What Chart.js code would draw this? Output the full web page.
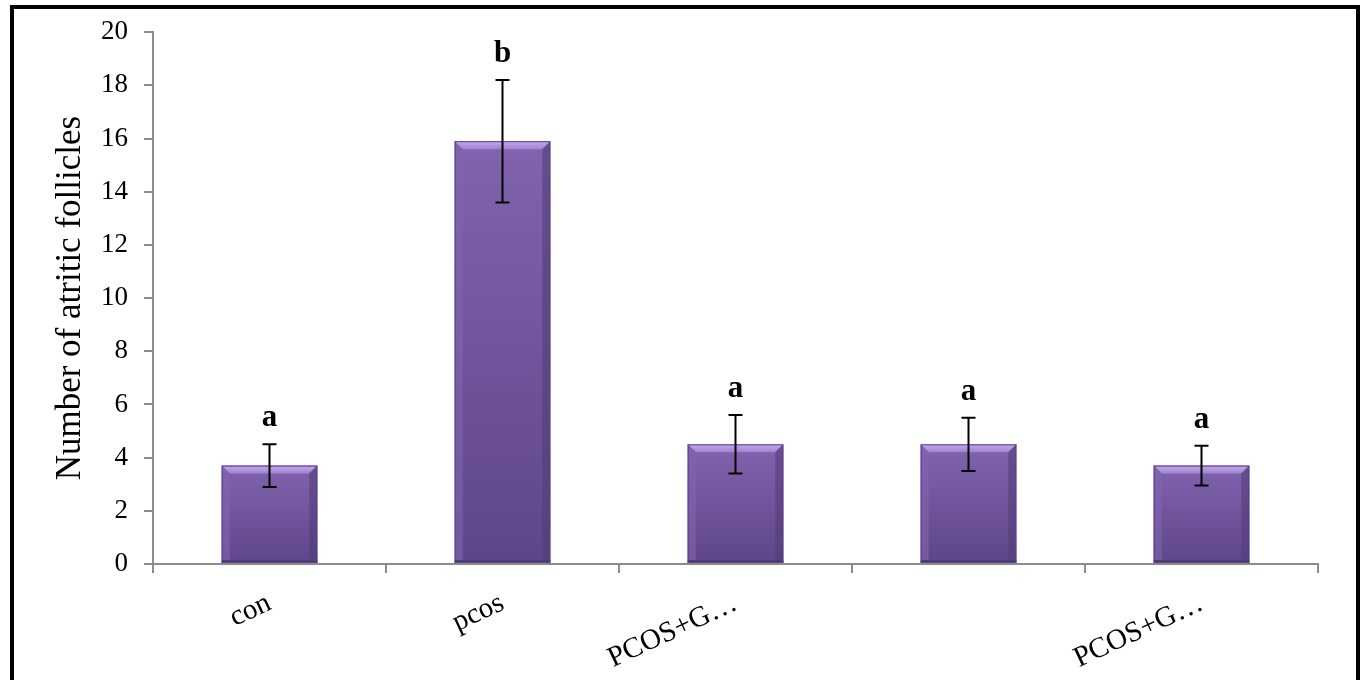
<!DOCTYPE html>
<html>
<head>
<meta charset="utf-8">
<script src="https://cdn.jsdelivr.net/npm/chart.js@4"></script>
<style>
  body { margin: 0; overflow: hidden; background: #fff; }
  #wrap { position: relative; width: 1364px; height: 680px; }
  #frame {
    position: absolute; left: 10px; top: 5px; width: 1350px; height: 700px;
    border: 4px solid #000; box-sizing: border-box; pointer-events: none;
  }
</style>
</head>
<body>
<div id="wrap">
  <canvas id="barChart" width="1364" height="680"></canvas>
  <div id="frame"></div>
</div>
<script>
// data
const categories = ["con", "pcos", "PCOS+G\u2026", "", "PCOS+G\u2026"];
const means = [3.7, 15.9, 4.5, 4.5, 3.7];
const errors = [0.8, 2.3, 1.1, 1.0, 0.75];
const letters = ["a", "b", "a", "a", "a"];
const yTicks = [0, 2, 4, 6, 8, 10, 12, 14, 16, 18, 20];

const axisGray = "#8c8c8c";
const serif = "'Liberation Serif', 'Times New Roman', serif";

// bevelled purple bars, painted over the bar elements chart.js laid out
const bevelPlugin = {
  id: "bevel",
  afterDatasetsDraw(chart) {
    const ctx = chart.ctx;
    chart.getDatasetMeta(0).data.forEach(function (bar) {
      const p = bar.getProps(["x", "y", "base", "width"], true);
      const l = p.x - p.width / 2, r = p.x + p.width / 2, t = p.y, b = p.base;
      const e = 8;
      ctx.save();
      let g = ctx.createLinearGradient(0, t, 0, b);
      g.addColorStop(0, "#8163ae");
      g.addColorStop(1, "#5f4689");
      ctx.fillStyle = g;
      ctx.fillRect(l, t, r - l, b - t);
      // top bevel
      g = ctx.createLinearGradient(0, t, 0, t + e);
      g.addColorStop(0, "#c3a9f0");
      g.addColorStop(1, "#9f82d2");
      ctx.fillStyle = g;
      ctx.beginPath();
      ctx.moveTo(l, t); ctx.lineTo(r, t); ctx.lineTo(r - e, t + e); ctx.lineTo(l + e, t + e);
      ctx.closePath(); ctx.fill();
      // left / right bevels
      ctx.fillStyle = "rgba(128,100,176,0.6)";
      ctx.beginPath();
      ctx.moveTo(l, t); ctx.lineTo(l + e, t + e); ctx.lineTo(l + e, b - 3); ctx.lineTo(l, b);
      ctx.closePath(); ctx.fill();
      ctx.fillStyle = "rgba(84,62,122,0.6)";
      ctx.beginPath();
      ctx.moveTo(r, t); ctx.lineTo(r - e, t + e); ctx.lineTo(r - e, b - 3); ctx.lineTo(r, b);
      ctx.closePath(); ctx.fill();
      // bottom
      ctx.fillStyle = "#4e3a74";
      ctx.fillRect(l, b - 3, r - l, 3);
      ctx.strokeStyle = "#5a4384";
      ctx.lineWidth = 1;
      ctx.strokeRect(l + 0.5, t + 0.5, r - l - 1, b - t - 1);
      ctx.restore();
    });
  },
};

// error bars and significance letters
const errorPlugin = {
  id: "errorBars",
  afterDatasetsDraw(chart) {
    const ctx = chart.ctx;
    const y = chart.scales.y;
    const cap = 7;
    chart.getDatasetMeta(0).data.forEach(function (bar, i) {
      const x = bar.x;
      const hi = y.getPixelForValue(means[i] + errors[i]);
      const lo = y.getPixelForValue(means[i] - errors[i]);
      ctx.save();
      ctx.strokeStyle = "#000";
      ctx.lineWidth = 2;
      ctx.beginPath();
      ctx.moveTo(x, hi); ctx.lineTo(x, lo);
      ctx.moveTo(x - cap, hi); ctx.lineTo(x + cap, hi);
      ctx.moveTo(x - cap, lo); ctx.lineTo(x + cap, lo);
      ctx.stroke();
      ctx.fillStyle = "#000";
      ctx.font = "bold 31px " + serif;
      ctx.textAlign = "center";
      ctx.textBaseline = "alphabetic";
      ctx.fillText(letters[i], x, hi - 18);
      ctx.restore();
    });
  },
};

const config = {
  type: "bar",
  data: {
    labels: categories,
    datasets: [
      {
        label: "Number of atritic follicles",
        data: means,
        backgroundColor: "#7458a0",
        borderWidth: 0,
        barPercentage: 0.41,
        categoryPercentage: 1,
      },
    ],
  },
  options: {
    responsive: false,
    animation: false,
    layout: { padding: { left: 40, top: 27, right: 46, bottom: 0 } },
    plugins: {
      legend: { display: false },
      tooltip: { enabled: false },
    },
    scales: {
      y: {
        min: 0,
        max: 20,
        afterBuildTicks: function (scale) {
          scale.ticks = yTicks.map((v) => ({ value: v }));
        },
        afterFit: function (scale) {
          scale.width = 113;
        },
        border: { color: axisGray, width: 2 },
        grid: { drawOnChartArea: false, color: axisGray, lineWidth: 2, tickLength: 9 },
        ticks: { color: "#000", font: { family: serif, size: 27 }, padding: 16 },
        title: {
          display: true,
          text: "Number of atritic follicles",
          color: "#000",
          font: { family: serif, size: 35 },
          padding: { top: 10, bottom: 0 },
        },
      },
      x: {
        afterFit: function (scale) {
          scale.height = 116;
        },
        border: { color: axisGray, width: 2 },
        grid: { drawOnChartArea: false, offset: true, color: axisGray, lineWidth: 2, tickLength: 9 },
        ticks: {
          color: "#000",
          font: { family: serif, size: 29 },
          minRotation: 25,
          maxRotation: 25,
          autoSkip: false,
          padding: 13,
        },
      },
    },
  },
  plugins: [bevelPlugin, errorPlugin],
};

const ctx = document.getElementById("barChart").getContext("2d");
const myBarChart = new Chart(ctx, config);
</script>
</body>
</html>
